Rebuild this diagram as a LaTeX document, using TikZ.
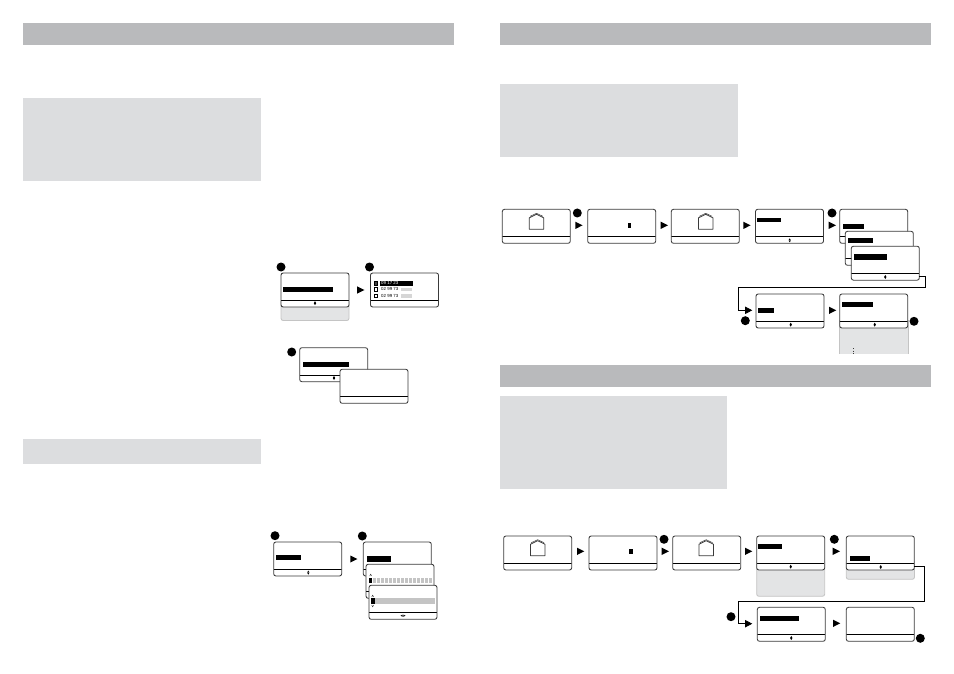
\documentclass[tikz,border=0pt]{standalone}
\usepackage{fontspec}
\setsansfont{Liberation Sans}
\usetikzlibrary{arrows.meta, calc}
\definecolor{HeadGrey}{HTML}{B9BABC}
\definecolor{PanelGrey}{HTML}{DCDDDF}
\definecolor{LcdEdge}{HTML}{3A3A3A}
\definecolor{DropGrey}{HTML}{E3E4E5}
\definecolor{BlurGrey}{HTML}{C4C4C4}
\newcommand{\updownmark}[2]{\fill[black] (#1,#2-2) -- (#1+1.1,#2-0.2) -- (#1-1.1,#2-0.2) -- cycle (#1,#2+2) -- (#1+1.1,#2+0.2) -- (#1-1.1,#2+0.2) -- cycle;}
\newcommand{\housemark}[2]{\draw[LcdEdge, line width=0.8pt, line join=round] (#1,#2+16) -- (#1,#2+4.5) -- (#1+7.2,#2+1) -- (#1+14.4,#2+4.5) -- (#1+14.4,#2+16) -- cycle; \draw[LcdEdge, line width=0.5pt] (#1+0.8,#2+3) -- (#1+7.2,#2) -- (#1+13.6,#2+3);}
\begin{document}
\begin{tikzpicture}[
        x=1pt, y=-1pt,
        head/.style={fill=HeadGrey, draw=none},
        panel/.style={fill=PanelGrey, draw=none},
        lcd/.style={rectangle, draw=LcdEdge, fill=white, line width=0.85pt, rounded corners=2.2pt, minimum width=68pt, minimum height=34pt, inner sep=0pt, outer sep=0pt, anchor=north west,
          path picture={\draw[black, line width=0.8pt] ([yshift=6.8pt]path picture bounding box.south west) -- ([yshift=6.8pt]path picture bounding box.south east);}},
        drop/.style={fill=DropGrey, draw=BlurGrey, line width=0.85pt, rounded corners=2.2pt},
        bar/.style={fill=black, draw=none},
        dotmark/.style={circle, fill=black, inner sep=0pt, minimum size=9pt},
        arr/.style={-{Triangle[length=7.3pt,width=7.4pt]}, line width=0.8pt, black},
        rowtext/.style={font=\sffamily\fontsize{4.4}{4.4}\selectfont, inner sep=0pt, anchor=west},
        rowbox/.style={draw=black, line width=0.4pt, fill=white, minimum size=3.8pt, inner sep=0pt}
      ]
        \useasboundingbox (0,0) rectangle (954,674);
        % header and panels
        \fill[head] (23,23) rectangle (454,45);
        \fill[head] (500,23) rectangle (931,45);
        \fill[head] (500,365) rectangle (931,387);
        \fill[panel] (23,98) rectangle (261,181);
        \fill[panel] (23,439) rectangle (261,464);
        \fill[panel] (500,84) rectangle (738,157);
        \fill[panel] (500,396) rectangle (727,489);

        % left page, first pair
        \draw[drop] (281,300) rectangle (349,320.5);
        \node[lcd] (memo) at (281,273) {};
        \node[lcd] (list) at (370.5,273) {};
        \fill[bar] (283,286.7) rectangle (333,292);
        \updownmark{315}{303.2}
        \node[dotmark] (memodot) at (281,267) {};
        \node[dotmark] (listdot) at (369.5,267) {};
        \fill[black] (357,286.3) -- (364.5,290) -- (357,293.7) -- cycle;
        \node[rowbox, fill=black!75] (rowa) at (375.7,283) {};
        \node[rowbox] (rowb) at (375.7,289.3) {};
        \node[rowbox] (rowc) at (375.7,295.7) {};
        \fill[black] (380,280.5) rectangle (412.5,285.5);
        \node[rowtext, text=white] at (381,283) {09 17 23};
        \node[rowtext] at (381,289.3) {02 99 73};
        \node[rowtext] at (381,295.7) {02 99 73};
        \fill[white!30!BlurGrey] (401,287.5) rectangle (412,291);
        \fill[white!30!BlurGrey] (401,294) rectangle (412,297.5);

        % left page, second pair
        \node[lcd] (erase) at (299.7,347.7) {};
        \fill[bar] (303,362) rectangle (349,367);
        \node[dotmark] (erasedot) at (291.7,352) {};
        \updownmark{334}{378}
        \node[lcd] (done) at (340,369.3) {};

        % left page, third group
        \node[lcd] (entry) at (273.7,542) {};
        \fill[bar] (276,554.7) rectangle (301,560);
        \updownmark{308.3}{572.6}
        \node[dotmark] (entrydot) at (275,535.7) {};
        \fill[black] (350.3,555.5) -- (357.5,559) -- (350.3,562.5) -- cycle;
        \node[lcd] (name) at (363.3,542) {};
        \fill[bar] (367,556) rectangle (391,561.7);
        \node[dotmark] (namedot) at (362.3,536) {};
        \node[lcd] (spell) at (366,564.3) {};
        \fill[black] (369,578) rectangle (372.3,583);
        \foreach \i in {0,...,14} {
          \fill[BlurGrey] ({373+\i*4},578) rectangle ({376+\i*4},583);
        }
        \draw[black, line width=0.3pt] (369.7,576) -- (370.7,574.2) -- (371.7,576);
        \node[lcd] (spelled) at (369,585.3) {};
        \fill[black] (371,598) rectangle (375,604);
        \fill[BlurGrey] (375,598) rectangle (435,604);
        \draw[black, line width=0.3pt] (371.7,597) -- (372.7,595.2) -- (373.7,597);
        \draw[black, line width=0.3pt] (371.7,605) -- (372.7,606.8) -- (373.7,605);
        \fill[black] (400.5,615.7) -- (402.6,614.6) -- (402.6,616.8) -- cycle (405.5,615.7) -- (403.4,614.6) -- (403.4,616.8) -- cycle;

        % right page, upper row
        \node[lcd] (homea) at (502.3,209.3) {};
        \node[lcd] (starta) at (587.7,209.3) {};
        \node[lcd] (homeb) at (671.3,209.3) {};
        \node[lcd] (menua) at (755.5,209.3) {};
        \node[dotmark] (dota) at (577.3,213) {};
        \node[dotmark] (dotb) at (832,213) {};
        \foreach \px in {575.3,660.7,743.3,828.7} {
          \fill[black] (\px,221.7) -- (\px+7.3,225.3) -- (\px,229) -- cycle;
        }
        \housemark{529.3}{213.3}
        \housemark{698.5}{213.3}
        \fill[black] (628.3,222.7) rectangle (631,227.7);
        \fill[bar] (757,217.7) rectangle (781,222);
        \updownmark{789.7}{240.3}
        \node[lcd] (suba) at (839.7,209.3) {};
        \fill[bar] (843,224) rectangle (864,229);
        \node[lcd] (subb) at (845.3,231.3) {};
        \fill[bar] (848,238) rectangle (873,243);
        \node[lcd] (subc) at (851.3,246.2) {};
        \fill[bar] (854,253.7) rectangle (887,259.7);
        \updownmark{885.3}{277}

        % right page, upper second row
        \coordinate (turna) at (752.3,310.3);
        \draw[arr] (subc.east |- 0,276.3) -- (925.7,276.3) -- (925.7,287.3) -- (738.3,287.3) -- (738.3,310.3) -- (turna);
        \node[dotmark] (dotc) at (745.3,320.7) {};
        \node[lcd] (itema) at (756,294) {};
        \fill[bar] (758,308) rectangle (774,313);
        \updownmark{790.7}{324.7}
        \fill[black] (829,306.7) -- (836.3,310.3) -- (829,314) -- cycle;
        \fill[DropGrey] (839.7,320) rectangle (908,354);
        \draw[BlurGrey, line width=0.85pt] (839.7,320) -- (839.7,354) (908,320) -- (908,354);
        \node[lcd] (itemb) at (839.7,294) {};
        \fill[bar] (842,302.3) rectangle (873,307);
        \updownmark{874.7}{324.7}
        \draw[LcdEdge, line width=0.7pt, dotted] (853.7,348) -- (853.7,355);
        \node[dotmark] (dotd) at (914,321.3) {};

        % right page, lower row
        \node[lcd] (homec) at (503.7,536) {};
        \node[lcd] (startb) at (589,536) {};
        \node[lcd] (homed) at (672.7,536) {};
        \foreach \px in {577,661.7,745,832.7} {
          \fill[black] (\px,547.7) -- (\px+7.3,551.3) -- (\px,555) -- cycle;
        }
        \node[dotmark] (dote) at (664,539.3) {};
        \node[dotmark] (dotf) at (834.3,539.3) {};
        \housemark{530.5}{539.7}
        \housemark{699}{539.7}
        \fill[black] (629,549) rectangle (633,553.7);
        \draw[drop] (756.7,560) rectangle (824.7,596.3);
        \node[lcd] (menub) at (756.7,536) {};
        \fill[bar] (758,544) rectangle (782,549);
        \updownmark{790.7}{566.7}
        \draw[drop] (846.3,560) rectangle (914.5,579.3);
        \node[lcd] (subd) at (846.3,536) {};
        \fill[bar] (850,556) rectangle (870,561.3);
        \updownmark{880.7}{567}

        % right page, bottom row
        \coordinate (turnb) at (752.3,623.7);
        \draw[arr] (subd.east |- 0,566.3) -- (924.7,566.3) -- (924.7,601.3) -- (738.3,601.3) -- (738.3,623.7) -- (turnb);
        \node[dotmark] (dotg) at (731,616.7) {};
        \node[lcd] (itemc) at (757.3,607.3) {};
        \fill[bar] (760,616) rectangle (799,621);
        \updownmark{791.3}{638}
        \fill[black] (833,619.7) -- (840.3,623.3) -- (833,627) -- cycle;
        \node[lcd] (stored) at (846.3,607.3) {};
        \node[dotmark] (doth) at (920.3,638.3) {};
      \end{tikzpicture}
\end{document}
